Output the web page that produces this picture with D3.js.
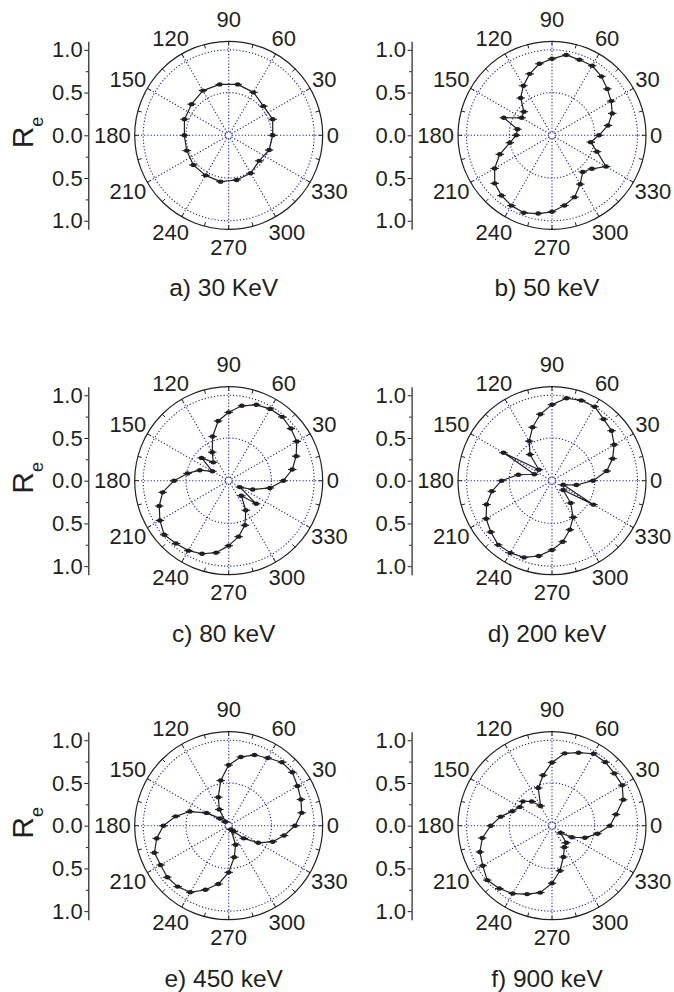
<!DOCTYPE html>
<html>
<head>
<meta charset="utf-8">
<script src="https://cdn.jsdelivr.net/npm/d3@7/dist/d3.min.js"></script>
<style>
  body { margin: 0; background: #fff; }
  svg { display: block; }
  text { font-family: "Liberation Sans", Arial, Helvetica, sans-serif; fill: #231f20; }
</style>
</head>
<body>
<svg id="chart" width="674" height="992"></svg>
<script>
// Angular positions (degrees) of the measurements
const angles20 = [0, 20, 40, 60, 80, 100, 120, 140, 160, 180, 200, 220, 240, 260, 280, 300, 320, 340];
const angles10 = [0, 10, 20, 30, 40, 50, 60, 70, 80, 90, 100, 110, 120, 130, 140, 150, 160, 170,
                  180, 190, 200, 210, 220, 230, 240, 250, 260, 270, 280, 290, 300, 310, 320, 330, 340, 350];

// Normalised response R_e at each angle, one series per beam energy
const re30 = [0.515, 0.548, 0.531, 0.58, 0.605, 0.605, 0.604, 0.567, 0.551,
              0.519, 0.523, 0.54, 0.541, 0.551, 0.531, 0.513, 0.465, 0.503];
const re50 = [0.55, 0.665, 0.75, 0.80, 0.845, 0.90, 0.94, 0.94, 0.955, 0.895, 0.85, 0.765,
              0.67, 0.57, 0.43, 0.41, 0.60, 0.41, 0.42, 0.50, 0.65, 0.775, 0.875, 0.92,
              0.95, 0.965, 0.93, 0.895, 0.835, 0.77, 0.66, 0.56, 0.61, 0.73, 0.56, 0.46];
const re80 = [0.64, 0.755, 0.84, 0.92, 0.95, 0.975, 0.97, 0.945, 0.89, 0.80, 0.71, 0.55,
              0.385, 0.28, 0.415, 0.22, 0.36, 0.49, 0.64, 0.785, 0.865, 0.93, 0.985, 0.96,
              0.945, 0.91, 0.855, 0.76, 0.665, 0.555, 0.40, 0.23, 0.42, 0.15, 0.30, 0.49];
const re200 = [0.48, 0.65, 0.755, 0.84, 0.91, 0.94, 1.0, 1.0, 0.98, 0.89, 0.79, 0.665,
               0.535, 0.40, 0.20, 0.655, 0.22, 0.40, 0.59, 0.715, 0.815, 0.89, 0.935, 0.98,
               0.975, 0.955, 0.895, 0.81, 0.725, 0.61, 0.495, 0.34, 0.17, 0.56, 0.14, 0.29];
const re450 = [0.776, 0.867, 0.90, 0.93, 0.972, 0.97, 0.915, 0.88, 0.817, 0.71, 0.537, 0.355,
               0.22, 0.06, 0.133, 0.30, 0.484, 0.63, 0.764, 0.855, 0.925, 0.92, 0.938, 0.93,
               0.90, 0.798, 0.693, 0.546, 0.374, 0.237, 0.05, 0.09, 0.23, 0.40, 0.548, 0.658];
const re900 = [0.678, 0.76, 0.887, 0.949, 0.952, 0.971, 0.972, 0.909, 0.86, 0.74, 0.60, 0.47,
               0.267, 0.37, 0.443, 0.435, 0.495, 0.61, 0.717, 0.828, 0.898, 0.936, 0.99, 0.96,
               0.917, 0.852, 0.795, 0.673, 0.535, 0.39, 0.29, 0.26, 0.13, 0.27, 0.41, 0.54];

// Uncertainty on R_e (half width of each error bar)
const reError = 0.05;

// Panel captions
const captions = ["a) 30 KeV", "b) 50 keV", "c) 80 keV", "d) 200 keV", "e) 450 keV", "f) 900 keV"];

// Axis ticks
const angleTicks = [0, 30, 60, 90, 120, 150, 180, 210, 240, 270, 300, 330];
const radialGrid = [0.5, 1.0];
const sideTicks = [-1.0, -0.5, 0.0, 0.5, 1.0];
const sideMinorTicks = [-0.75, -0.25, 0.25, 0.75];

const panels = [
  { angles: angles20, values: re30 },
  { angles: angles10, values: re50 },
  { angles: angles10, values: re80 },
  { angles: angles10, values: re200 },
  { angles: angles10, values: re450 },
  { angles: angles10, values: re900 }
];

// Layout
const colX = [228.7, 552];
const rowY = [135.3, 480.7, 825.7];
const R = 94;           // outer circle radius (px)
const rMax = 1.1;
const gridColor = "#2020a4";
const ink = "#231f20";

const svg = d3.select("#chart");
svg.append("rect").attr("width", 674).attr("height", 992).attr("fill", "#fff");

const rad = d => d * Math.PI / 180;

panels.forEach((p, i) => {
  const col = i % 2, row = Math.floor(i / 2);
  const cx = colX[col], cy = rowY[row];
  const g = svg.append("g").attr("transform", `translate(${cx},${cy})`);
  const r = d3.scaleLinear().domain([0, rMax]).range([0, R]);

  // dotted grid circles
  g.selectAll("circle.grid").data(radialGrid).join("circle")
    .attr("class", "grid").attr("r", d => r(d))
    .attr("fill", "none").attr("stroke", gridColor).attr("stroke-width", 1.1)
    .attr("stroke-dasharray", "1.2,2");
  g.append("circle").attr("r", 3.3).attr("fill", "none")
    .attr("stroke", gridColor).attr("stroke-width", 1).attr("stroke-dasharray", "1,1.2");

  // dotted spokes
  g.selectAll("line.spoke").data(angleTicks).join("line")
    .attr("class", "spoke")
    .attr("x1", d => 3.3 * Math.cos(rad(d))).attr("y1", d => -3.3 * Math.sin(rad(d)))
    .attr("x2", d => R * Math.cos(rad(d))).attr("y2", d => -R * Math.sin(rad(d)))
    .attr("stroke", gridColor).attr("stroke-width", 1.1).attr("stroke-dasharray", "1.2,2");

  // outer circle with inward ticks every 15 degrees
  g.append("circle").attr("r", R).attr("fill", "none").attr("stroke", ink).attr("stroke-width", 1.2);
  const ring = d3.range(0, 360, 15);
  g.selectAll("line.ring").data(ring).join("line")
    .attr("class", "ring")
    .attr("x1", d => R * Math.cos(rad(d))).attr("y1", d => -R * Math.sin(rad(d)))
    .attr("x2", d => (R - 4) * Math.cos(rad(d))).attr("y2", d => -(R - 4) * Math.sin(rad(d)))
    .attr("stroke", ink).attr("stroke-width", 1);

  // angle labels
  const cap = 15;
  angleTicks.forEach(a => {
    const t = g.append("text").attr("font-size", 22).attr("text-anchor", "middle").text(a);
    const w = t.node().getComputedTextLength();
    const c = Math.cos(rad(a)), s = Math.sin(rad(a));
    let x = (R + 4) * c + (w / 2) * c;
    let y = -(R + 4) * s - cap * 0.95 * s;
    if (a === 90) y -= 4;
    t.attr("x", x).attr("y", y + cap / 2);
  });

  // data curve
  const data = p.angles.map((a, k) => ({ a, v: p.values[k] }));
  const line = d3.lineRadial()
    .angle(d => Math.PI / 2 - rad(d.a))
    .radius(d => r(d.v))
    .curve(d3.curveLinearClosed);
  g.append("path").datum(data).attr("d", line)
    .attr("fill", "none").attr("stroke", ink).attr("stroke-width", 1.2).attr("stroke-linejoin", "round");

  // error bars and markers
  const px = d => r(d.v) * Math.cos(rad(d.a));
  const py = d => -r(d.v) * Math.sin(rad(d.a));
  g.selectAll("line.err").data(data).join("line")
    .attr("class", "err")
    .attr("x1", d => px(d) - r(reError)).attr("x2", d => px(d) + r(reError))
    .attr("y1", py).attr("y2", py)
    .attr("stroke", ink).attr("stroke-width", 1.1);
  g.selectAll("ellipse.pt").data(data).join("ellipse")
    .attr("class", "pt").attr("cx", px).attr("cy", py)
    .attr("rx", 2.7).attr("ry", 2.2).attr("fill", ink);

  // side scale of R_e (major ticks with labels, minor ticks in their own group)
  const y = d3.scaleLinear().domain([-rMax, rMax]).range([R, -R]);
  const axisX = -140.4;
  const axMinor = g.append("g").attr("transform", `translate(${axisX},0)`);
  axMinor.call(d3.axisLeft(y).tickValues(sideMinorTicks).tickSize(2.5).tickSizeOuter(0).tickFormat(""));
  axMinor.select("path.domain").remove();
  const ax = g.append("g").attr("transform", `translate(${axisX},0)`);
  ax.call(d3.axisLeft(y).tickValues(sideTicks).tickSize(4).tickSizeOuter(0).tickPadding(1.6)
    .tickFormat(d => Math.abs(d).toFixed(1)));
  ax.selectAll("path.domain").attr("stroke", ink).attr("stroke-width", 1.2);
  g.selectAll(".tick line").attr("stroke", ink).attr("stroke-width", 1);
  ax.selectAll("text").attr("font-size", 22).attr("fill", ink)
    .attr("font-family", "'Liberation Sans', Arial, sans-serif");

  if (col === 0) {
    const lab = g.append("text")
      .attr("transform", `translate(-195.4,-2.8) rotate(-90)`)
      .attr("text-anchor", "middle");
    lab.append("tspan").attr("font-size", 30).text("R");
    lab.append("tspan").attr("font-size", 18).attr("dy", 10).text("e");
  }

  // caption
  g.append("text").attr("x", -5).attr("y", 161).attr("text-anchor", "middle")
    .attr("font-size", 24.5).text(captions[i]);
});
</script>
</body>
</html>
